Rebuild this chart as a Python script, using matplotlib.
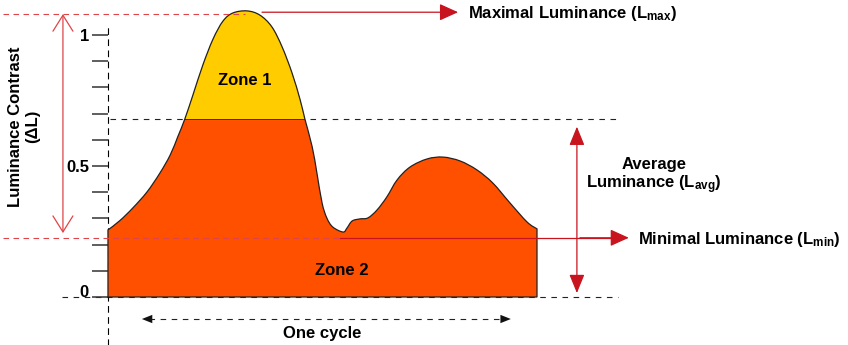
import matplotlib
matplotlib.use('Agg')
import matplotlib.pyplot as plt
from matplotlib.path import Path
from matplotlib.patches import PathPatch, Rectangle
import numpy as np

plt.rcParams['font.family'] = ['Liberation Sans', 'DejaVu Sans']
plt.rcParams['font.weight'] = 'bold'
plt.rcParams['mathtext.fontset'] = 'custom'
plt.rcParams['mathtext.rm'] = 'Liberation Sans:bold'
plt.rcParams['mathtext.it'] = 'Liberation Sans:bold'
plt.rcParams['mathtext.bf'] = 'Liberation Sans:bold'
plt.rcParams['mathtext.default'] = 'rm'

# luminance over one cycle (x: fraction of the cycle, y: luminance)
cycle_x = [0.000, 0.028, 0.058, 0.091, 0.121, 0.145, 0.163, 0.179, 0.198, 0.221,
           0.245, 0.268, 0.291, 0.324, 0.354, 0.382, 0.406, 0.429, 0.448, 0.459,
           0.476, 0.487, 0.499, 0.510, 0.524, 0.548, 0.557, 0.569, 0.587, 0.606,
           0.627, 0.650, 0.674, 0.704, 0.744, 0.781, 0.821, 0.860, 0.897, 0.937,
           0.977, 1.000]
luminance = [0.256, 0.292, 0.340, 0.401, 0.473, 0.542, 0.613, 0.679, 0.771, 0.885,
             0.985, 1.053, 1.084, 1.092, 1.076, 1.031, 0.954, 0.855, 0.752, 0.679,
             0.573, 0.473, 0.359, 0.302, 0.267, 0.248, 0.263, 0.290, 0.298, 0.302,
             0.332, 0.382, 0.447, 0.496, 0.527, 0.534, 0.519, 0.485, 0.435, 0.359,
             0.286, 0.260]

L_max = 1.084
L_min = 0.226
L_avg = 0.68
tick_values = [0, 0.5, 1]
tick_labels = ['0', '0.5', '1']
minor_values = [0.1, 0.2, 0.3, 0.4, 0.6, 0.7, 0.8, 0.9]

orange = '#FF5000'
yellow = '#FFCC00'
red = '#C8141E'
light_red = '#E04448'

fig = plt.figure(figsize=(8.48, 3.45), dpi=100)
ax = fig.add_axes([0, 0, 1, 1])
ax.set_xlim(-0.2517, 1.7249)
ax.set_ylim(-0.1832, 1.1336)

# region under the curve, smoothed with bezier segments through the points
pts = np.column_stack([cycle_x, luminance])
verts = [(0, 0), tuple(pts[0])]
codes = [Path.MOVETO, Path.LINETO]
n = len(pts)
for i in range(n - 1):
    p0 = pts[max(i - 1, 0)]
    p1 = pts[i]
    p2 = pts[i + 1]
    p3 = pts[min(i + 2, n - 1)]
    verts += [tuple(p1 + (p2 - p0) / 6), tuple(p2 - (p3 - p1) / 6), tuple(p2)]
    codes += [Path.CURVE4] * 3
verts += [(1, 0), (0, 0)]
codes += [Path.LINETO, Path.CLOSEPOLY]
region = Path(verts, codes)

base = PathPatch(region, facecolor=orange, edgecolor='none', zorder=2)
ax.add_patch(base)
top = Rectangle((-0.01, L_avg), 1.02, 0.5, facecolor=yellow, edgecolor='none', zorder=2)
ax.add_patch(top)
top.set_clip_path(base)
seam, = ax.plot([0, 1], [L_avg, L_avg], color='#333333', lw=0.7, zorder=3)
seam.set_clip_path(base)
ax.add_patch(PathPatch(region, facecolor='none', edgecolor='#222222', lw=0.9, zorder=3))

# dashed reference lines
ax.plot([0.005, 1.189], [L_avg, L_avg], color='#222222', lw=0.8, dashes=(5, 5), zorder=1)
ax.plot([-0.107, 1.189], [0, 0], color='#222222', lw=0.8, dashes=(5, 5), zorder=1)
ax.plot([-0.245, 0.319], [L_max - 0.004, L_max - 0.004], color=light_red, lw=0.8, dashes=(5, 4), zorder=4)
ax.plot([-0.245, 0.541], [L_min, L_min], color=light_red, lw=0.8, dashes=(5, 4), zorder=4)
ax.plot([0.541, 1.17], [L_min, L_min], color=red, lw=0.9, zorder=4)

# arrows
head = dict(arrowstyle='-|>,head_length=1.15,head_width=0.52', color=red, lw=0.9,
            shrinkA=0, shrinkB=0, mutation_scale=10)
ax.annotate('', xy=(0.816, L_max + 0.003), xytext=(0.359, L_max + 0.003), arrowprops=head, zorder=4)
ax.annotate('', xy=(1.214, L_min), xytext=(1.10, L_min), arrowprops=head, zorder=4)
ax.annotate('', xy=(1.093, 0.65), xytext=(1.093, 0.015),
            arrowprops=dict(arrowstyle='<|-|>,head_length=1.15,head_width=0.47', color=red, lw=0.9,
                            shrinkA=0, shrinkB=0, mutation_scale=10), zorder=4)
ax.annotate('', xy=(-0.105, L_max - 0.004), xytext=(-0.105, 0.244),
            arrowprops=dict(arrowstyle='<->,head_length=1.15,head_width=0.72', color=light_red, lw=0.9,
                            shrinkA=0, shrinkB=0, mutation_scale=10), zorder=4)

# one cycle arrow
ax.plot([0.095, 0.925], [-0.084, -0.084], color='#222222', lw=0.8, dashes=(5, 5))
small = dict(arrowstyle='-|>,head_length=0.75,head_width=0.3', color='#111111', lw=0,
             shrinkA=0, shrinkB=0, mutation_scale=10)
ax.annotate('', xy=(0.079, -0.084), xytext=(0.11, -0.084), arrowprops=small)
ax.annotate('', xy=(0.939, -0.084), xytext=(0.908, -0.084), arrowprops=small)

# y axis
for side in ['top', 'right', 'bottom']:
    ax.spines[side].set_visible(False)
ax.spines['left'].set_position(('data', 0))
ax.spines['left'].set_linestyle((0, (5, 5)))
ax.spines['left'].set_linewidth(0.8)
ax.spines['left'].set_bounds(-0.1832, 1.038)
ax.spines['left'].set_zorder(1)
ax.set_xticks([])
ax.set_yticks(tick_values)
ax.set_yticklabels(tick_labels)
ax.set_yticks(minor_values, minor=True)
ax.tick_params(axis='y', which='both', direction='out', length=11.5, width=1.1,
               color='#333333', pad=2.2, labelsize=12)
ticks = ax.yaxis.get_major_ticks()
ticks[0].label1.set_verticalalignment('baseline')

# texts
ax.text(0.319, 0.809, 'Zone 1', fontsize=12, ha='center', va='baseline', zorder=5)
ax.text(0.545, 0.084, 'Zone 2', fontsize=12, ha='center', va='baseline', zorder=5)
ax.text(0.499, -0.158, 'One cycle', fontsize=12, ha='center', va='baseline')
ax.text(0.839, 1.063, 'Maximal Luminance (L$_{max}$)', fontsize=12, ha='left', va='baseline')
ax.text(1.273, 0.489, 'Average', fontsize=12, ha='center', va='baseline')
ax.text(1.273, 0.416, 'Luminance (L$_{avg}$)', fontsize=12, ha='center', va='baseline')
ax.text(1.235, 0.202, 'Minimal Luminance (L$_{min}$)', fontsize=12, ha='left', va='baseline')
ax.text(-0.195, 0.65, 'Luminance Contrast\n(\u0394L)', fontsize=12, rotation=90,
        ha='center', va='center', multialignment='center', linespacing=1.15)

plt.savefig('out.png', dpi=100)
